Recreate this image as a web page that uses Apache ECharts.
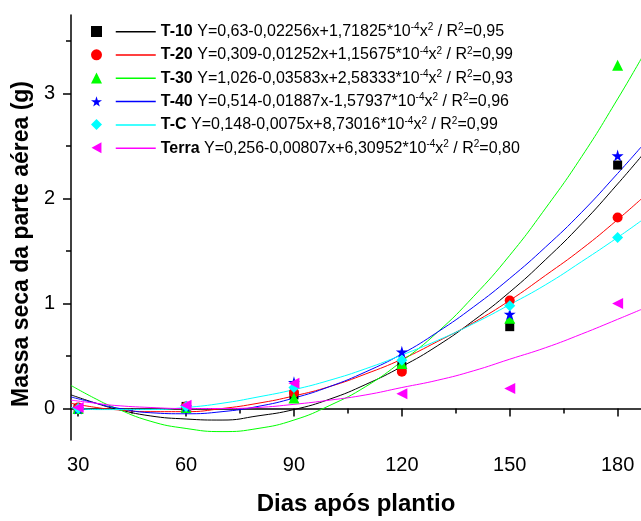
<!DOCTYPE html>
<html>
<head>
<meta charset="utf-8">
<script src="https://cdn.jsdelivr.net/npm/echarts@6/dist/echarts.min.js"></script>
<style>
html, body { margin: 0; padding: 0; background: #fff; }
#container { width: 641px; height: 521px; }
</style>
</head>
<body>
<div id="container"></div>
<script>
// measured points
var days = [30, 60, 90, 120, 150, 180];
var t10 = [0.00, 0.02, 0.13, 0.40, 0.78, 2.32];
var t20 = [0.01, 0.02, 0.15, 0.35, 1.03, 1.82];
var t30 = [0.00, 0.01, 0.10, 0.43, 0.86, 3.27];
var t40 = [0.00, 0.02, 0.25, 0.54, 0.90, 2.41];
var tc = [0.00, 0.02, 0.20, 0.46, 0.98, 1.63];
var terra = [0.01, 0.03, 0.24, 0.14, 0.19, 1.00];

// fitted curves
var fitDays = [28, 35, 40, 50, 60, 70, 80, 90, 100, 110, 120, 130, 140, 150, 160, 170, 180, 187];
var fitT10 = [0.13, 0.05, 0.00, -0.07, -0.10, -0.11, -0.07, -0.01, 0.09, 0.23, 0.40, 0.60, 0.84, 1.11, 1.42, 1.76, 2.14, 2.42];
var fitT20 = [0.05, 0.01, -0.01, -0.03, -0.03, 0.00, 0.05, 0.12, 0.21, 0.33, 0.47, 0.64, 0.82, 1.03, 1.27, 1.52, 1.80, 2.01];
var fitT30 = [0.22, 0.09, 0.01, -0.12, -0.19, -0.22, -0.19, -0.11, 0.03, 0.21, 0.45, 0.73, 1.07, 1.46, 1.91, 2.40, 2.95, 3.36];
var fitT40 = [0.11, 0.05, 0.01, -0.04, -0.05, -0.03, 0.02, 0.10, 0.21, 0.35, 0.52, 0.73, 0.97, 1.24, 1.54, 1.87, 2.24, 2.51];
var fitTC = [0.01, -0.01, -0.01, -0.01, 0.01, 0.05, 0.11, 0.18, 0.27, 0.38, 0.51, 0.65, 0.81, 0.99, 1.18, 1.40, 1.63, 1.80];
var fitTerra = [0.08, 0.05, 0.03, 0.01, 0.00, 0.00, 0.01, 0.04, 0.08, 0.13, 0.20, 0.27, 0.36, 0.47, 0.58, 0.71, 0.85, 0.95];

var xTicks = [30, 60, 90, 120, 150, 180];
var xMinor = [45, 75, 105, 135, 165];
var yTicks = [0, 1, 2, 3];
var yMinor = [0.5, 1.5, 2.5, 3.5];

var names = ['T-10', 'T-20', 'T-30', 'T-40', 'T-C', 'Terra'];
var eqText = [
	'Y=0,63-0,02256x+1,71825*10',
	'Y=0,309-0,01252x+1,15675*10',
	'Y=1,026-0,03583x+2,58333*10',
	'Y=0,514-0,01887x-1,57937*10',
	'Y=0,148-0,0075x+8,73016*10',
	'Y=0,256-0,00807x+6,30952*10'
];
var r2Text = ['0,95', '0,99', '0,93', '0,96', '0,99', '0,80'];

var font = 'Liberation Sans, Arial, sans-serif';
var colors = ['#000000', '#ff0000', '#00ff00', '#0000ff', '#00ffff', '#ff00ff'];
var star = 'path://M50,0 L61,35 L98,35 L68,57 L79,91 L50,70 L21,91 L32,57 L2,35 L39,35 Z';
var leftTri = 'path://M0,50 L90,0 L90,100 Z';
var symbols = ['rect', 'circle', 'triangle', star, 'diamond', 'triangle'];
var legendIcons = ['rect', 'circle', 'triangle', star, 'diamond', leftTri];
var symSizes = [9, 10, 11, 12, 11, 11];
var symRotate = [0, 0, 0, 0, 0, 90];
var pointSets = [t10, t20, t30, t40, tc, terra];
var fitSets = [fitT10, fitT20, fitT30, fitT40, fitTC, fitTerra];

function pairs(xs, ys) {
	var out = [];
	for (var i = 0; i < xs.length; i++) out.push([xs[i], ys[i]]);
	return out;
}

var series = [];
for (var i = 0; i < names.length; i++) {
	series.push({
		name: names[i],
		type: 'line',
		smooth: true,
		symbol: 'none',
		z: 2,
		lineStyle: { color: colors[i], width: 1 },
		itemStyle: { color: colors[i] },
		data: pairs(fitDays, fitSets[i])
	});
}
for (var i = 0; i < names.length; i++) {
	series.push({
		name: 'pt ' + names[i],
		type: 'scatter',
		symbol: symbols[i],
		symbolSize: symSizes[i],
		symbolRotate: symRotate[i],
		z: 3,
		itemStyle: { color: colors[i], opacity: 1 },
		data: pairs(days, pointSets[i])
	});
}

var dom = document.getElementById('container');
var myChart = echarts.init(dom);
var option = {
	animation: false,
	textStyle: { fontFamily: font },
	grid: { left: 71, right: 0, top: 15, bottom: 77 },
	legend: [{
		data: names.map(function (n, k) { return { name: 'pt ' + n, icon: legendIcons[k] }; }),
		orient: 'vertical',
		left: 91,
		top: 26,
		padding: 0,
		itemWidth: 11,
		itemHeight: 11,
		itemGap: 12.3,
		formatter: function () { return ''; }
	}, {
		data: names,
		orient: 'vertical',
		left: 115,
		top: 22.7,
		padding: 0,
		itemWidth: 40,
		itemHeight: 14,
		itemGap: 5.3,
		itemStyle: { opacity: 0 },
		lineStyle: { width: 1.5 },
		textStyle: {
			fontFamily: font,
			fontSize: 16,
			lineHeight: 18,
			color: '#000',
			rich: {
				b: { fontFamily: font, fontSize: 16, lineHeight: 18, fontWeight: 'bold', color: '#000' },
				s: { fontFamily: font, fontSize: 10, lineHeight: 10, verticalAlign: 'top', color: '#000' }
			}
		},
		formatter: function (name) {
			var i = names.indexOf(name);
			return '{b|' + name + '} ' + eqText[i] + '{s|-4}x{s|2} / R{s|2}=' + r2Text[i];
		}
	}],
	xAxis: [{
		type: 'value',
		min: 28,
		max: 186.5,
		name: 'Dias após plantio',
		nameLocation: 'middle',
		nameGap: 52,
		nameTextStyle: { fontFamily: font, fontSize: 24, fontWeight: 'bold', color: '#000' },
		axisLine: { lineStyle: { color: '#000', width: 1.5 } },
		axisTick: { customValues: xTicks, length: 8, lineStyle: { color: '#000', width: 1.5 } },
		axisLabel: { customValues: xTicks, margin: 15, fontSize: 20, color: '#000', fontFamily: font },
		splitLine: { show: false }
	}, {
		type: 'value',
		min: 28,
		max: 186.5,
		position: 'bottom',
		axisLine: { show: false },
		axisTick: { customValues: xMinor, length: 5, lineStyle: { color: '#000', width: 1.5 } },
		axisLabel: { show: false },
		splitLine: { show: false }
	}],
	yAxis: [{
		type: 'value',
		min: -0.3,
		max: 3.75,
		name: 'Massa seca da parte aérea (g)',
		nameLocation: 'middle',
		nameGap: 38,
		nameTextStyle: { fontFamily: font, fontSize: 23, fontWeight: 'bold', color: '#000', padding: [0, 33, 0, 0] },
		axisLine: { show: true, lineStyle: { color: '#000', width: 1.5 } },
		axisTick: { show: true, customValues: yTicks, length: 8, lineStyle: { color: '#000', width: 1.5 } },
		axisLabel: { customValues: yTicks, margin: 16, fontSize: 20, color: '#000', fontFamily: font },
		splitLine: { show: false }
	}, {
		type: 'value',
		min: -0.3,
		max: 3.75,
		position: 'left',
		axisLine: { show: false },
		axisTick: { show: true, customValues: yMinor, length: 5, lineStyle: { color: '#000', width: 1.5 } },
		axisLabel: { show: false },
		splitLine: { show: false }
	}],
	series: series
};
myChart.setOption(option, true);
</script>
</body>
</html>
